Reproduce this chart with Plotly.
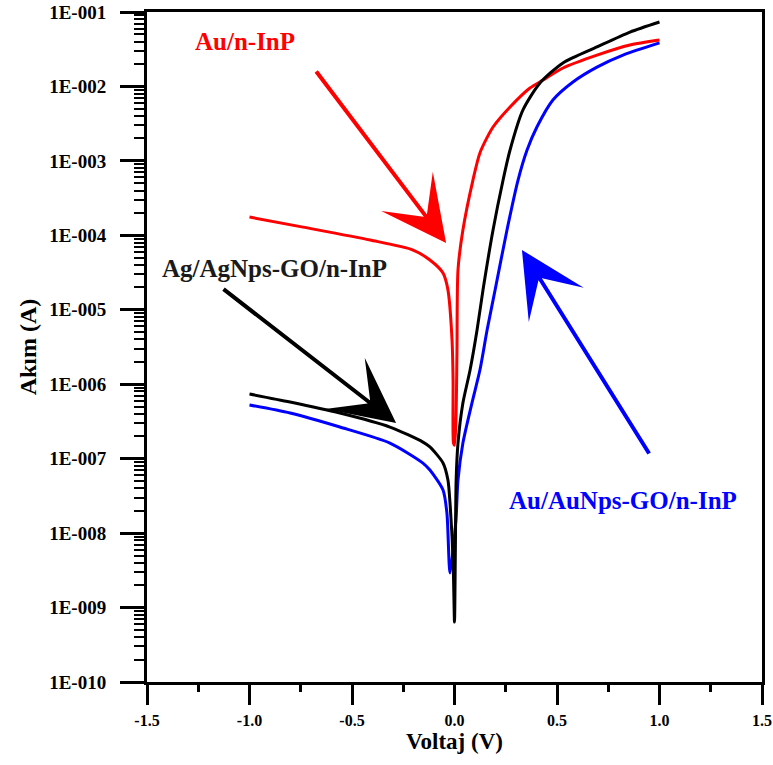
import plotly.graph_objects as go

# Au/n-InP (red)
v_au = [-1.0, -0.739, -0.412, -0.202, -0.12, -0.056, -0.032, -0.012, -0.007, -0.005, 0.0,
        0.007, 0.012, 0.017, 0.041, 0.090, 0.124, 0.188, 0.271, 0.368, 0.432, 0.529, 0.695, 0.856, 1.0]
i_au = [1.76e-4, 1.29e-4, 8.65e-5, 6.35e-5, 4.66e-5, 3.12e-5, 1.85e-5, 3.93e-6, 1.14e-6, 1.62e-7, 1.52e-7,
        3.31e-7, 2.63e-6, 3.42e-5, 1.18e-4, 5.53e-4, 1.28e-3, 2.85e-3, 5.30e-3, 9.53e-3, 1.22e-2, 1.77e-2,
        2.64e-2, 3.61e-2, 4.21e-2]

# Ag/AgNps-GO/n-InP (black)
v_ag = [-1.0, -0.802, -0.559, -0.315, -0.154, -0.120, -0.056, -0.032, -0.022, -0.007, 0.0,
        0.004, 0.008, 0.017, 0.041, 0.076, 0.110, 0.139, 0.188, 0.237, 0.271, 0.334, 0.417, 0.529, 0.695, 0.856, 1.0]
i_ag = [7.38e-7, 5.77e-7, 4.10e-7, 2.66e-7, 1.67e-7, 1.44e-7, 8.75e-8, 5.16e-8, 2.54e-8, 4.37e-9, 6.38e-10,
        5.0e-9, 5.16e-8, 1.62e-7, 5.58e-7, 1.55e-6, 5.35e-6, 1.84e-5, 1.18e-4, 5.53e-4, 1.40e-3, 4.83e-3,
        1.11e-2, 2.07e-2, 3.39e-2, 5.38e-2, 7.35e-2]

# Au/AuNps-GO/n-InP (blue)
v_aunp = [-1.0, -0.802, -0.559, -0.315, -0.154, -0.120, -0.056, -0.037, -0.022,
          0.007, 0.017, 0.041, 0.085, 0.124, 0.159, 0.198, 0.256, 0.310, 0.354, 0.402, 0.480, 0.578, 0.695, 0.822, 1.0]
i_aunp = [5.26e-7, 4.10e-7, 2.66e-7, 1.62e-7, 8.73e-8, 7.03e-8, 3.79e-8, 1.86e-8, 2.91e-9,
          1.51e-8, 5.16e-8, 1.62e-7, 5.58e-7, 1.55e-6, 5.35e-6, 1.84e-5, 1.18e-4, 5.53e-4, 1.40e-3,
          2.85e-3, 6.58e-3, 1.15e-2, 1.82e-2, 2.64e-2, 3.84e-2]

y_tickvals = [1e-1, 1e-2, 1e-3, 1e-4, 1e-5, 1e-6, 1e-7, 1e-8, 1e-9, 1e-10]
y_ticktext = ["1E-001", "1E-002", "1E-003", "1E-004", "1E-005", "1E-006", "1E-007", "1E-008", "1E-009", "1E-010"]
x_tickvals = [-1.5, -1.0, -0.5, 0.0, 0.5, 1.0, 1.5]
x_ticktext = ["-1.5", "-1.0", "-0.5", "0.0", "0.5", "1.0", "1.5"]

FONT = "Liberation Serif"

fig = go.Figure()
fig.add_trace(go.Scatter(x=v_aunp, y=i_aunp, mode="lines",
                         line=dict(color="#0000ff", width=3, shape="spline", smoothing=0.7),
                         name="Au/AuNps-GO/n-InP"))
fig.add_trace(go.Scatter(x=v_au, y=i_au, mode="lines",
                         line=dict(color="#ff0000", width=3, shape="spline", smoothing=0.7),
                         name="Au/n-InP"))
fig.add_trace(go.Scatter(x=v_ag, y=i_ag, mode="lines",
                         line=dict(color="#000000", width=3, shape="spline", smoothing=0.7),
                         name="Ag/AgNps-GO/n-InP"))

# labels
labels = [
    dict(text="Au/n-InP", x=-1.02, y=-1.40, color="#ff0000"),
    dict(text="Ag/AgNps-GO/n-InP", x=-0.876, y=-4.44, color="#1a1a1a"),
    dict(text="Au/AuNps-GO/n-InP", x=0.822, y=-7.556, color="#0000ff"),
]
for lb in labels:
    fig.add_annotation(x=lb["x"], y=lb["y"], xref="x", yref="y", text=lb["text"], showarrow=False,
                       font=dict(family=FONT, size=25, color=lb["color"], weight="bold"))

# arrows: (tip x, tip log y, tail x, tail log y, color)
arrows = [
    (-0.041, -4.103, -0.680, -1.779, "#ff0000"),
    (-0.285, -6.521, -1.134, -4.708, "#000000"),
    (0.329, -4.197, 0.954, -6.951, "#0000ff"),
]
for tx, ty, ax, ay, c in arrows:
    fig.add_annotation(x=tx, y=ty, xref="x", yref="y", ax=ax, ay=ay, axref="x", ayref="y",
                       text="", showarrow=True, arrowhead=3, arrowsize=2.7, arrowwidth=4,
                       arrowcolor=c, standoff=0)

fig.update_layout(
    width=773, height=765,
    margin=dict(l=147, r=11, t=12, b=83),
    paper_bgcolor="white", plot_bgcolor="white",
    showlegend=False,
    font=dict(family=FONT, color="black"),
)
fig.update_xaxes(
    range=[-1.5, 1.5], tickmode="array", tickvals=x_tickvals, ticktext=x_ticktext,
    showgrid=False, zeroline=False, showline=True, linecolor="black", linewidth=3, mirror=True,
    ticks="outside", ticklen=20, tickwidth=3, tickcolor="black", automargin=False,
    minor=dict(ticks="outside", ticklen=7, tickwidth=3, tickcolor="black", dtick=0.25, showgrid=False),
    tickfont=dict(family=FONT, size=16, color="black", weight="bold"),
    ticklabelstandoff=2,
    title=dict(text="Voltaj (V)", font=dict(family=FONT, size=23, color="black", weight="bold"), standoff=2),
)
fig.update_yaxes(
    type="log", range=[-10, -1], tickmode="array", tickvals=y_tickvals, ticktext=y_ticktext,
    showgrid=False, zeroline=False, showline=True, linecolor="black", linewidth=3, mirror=True,
    ticks="outside", ticklen=24, tickwidth=3, tickcolor="black", automargin=False,
    minor=dict(ticks="outside", ticklen=10, tickwidth=2, tickcolor="black", dtick="D1", showgrid=False),
    tickfont=dict(family=FONT, size=19, color="black", weight="bold"),
    ticklabelstandoff=10,
    title=dict(text="Akım (A)", font=dict(family=FONT, size=24, color="black", weight="bold"), standoff=6),
)

fig.write_html("out.html")
